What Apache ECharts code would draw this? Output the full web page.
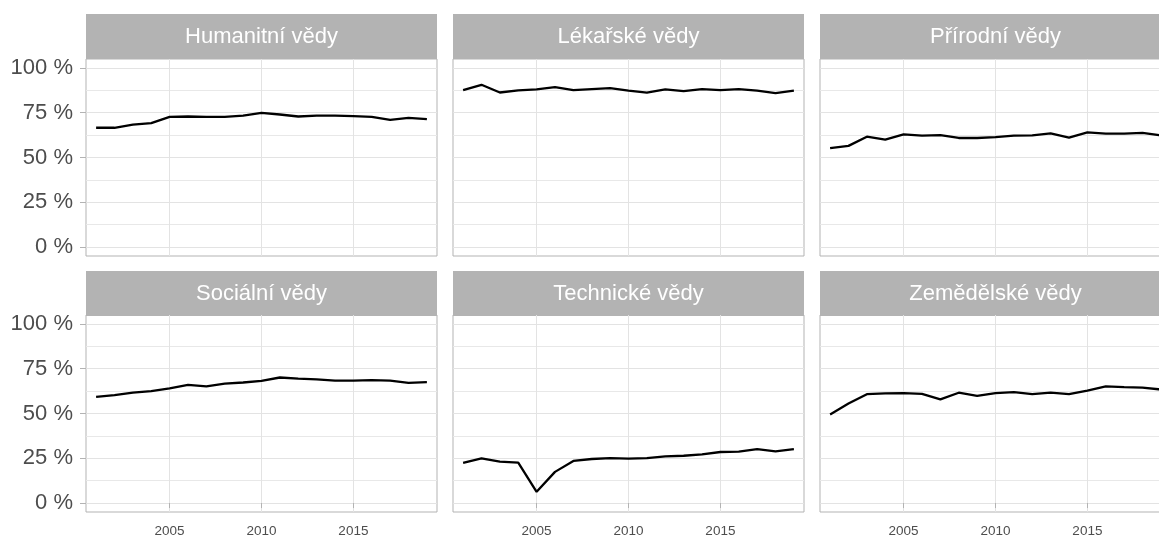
<!DOCTYPE html>
<html lang="cs">
<head>
<meta charset="UTF-8">
<title>Podíl podle oborů</title>
<script src="https://cdn.jsdelivr.net/npm/echarts@6/dist/echarts.min.js"></script>
<style>
  html, body { margin: 0; padding: 0; background: #fff; overflow: hidden; }
  /* graf je o něco širší než okno, pravý panel je oříznutý */
  #main { width: 1175px; height: 539px; }
</style>
</head>
<body>
<div id="main"></div>
<script>
// roky a hodnoty (v %) pro jednotlivé obory
var years = [2001, 2002, 2003, 2004, 2005, 2006, 2007, 2008, 2009, 2010,
             2011, 2012, 2013, 2014, 2015, 2016, 2017, 2018, 2019];

var panelNames = ['Humanitní vědy', 'Lékařské vědy', 'Přírodní vědy',
                  'Sociální vědy', 'Technické vědy', 'Zemědělské vědy'];

var humanitni = [66.6, 66.6, 68.3, 69.2, 72.7, 72.9, 72.7, 72.7, 73.4, 74.9,
                 74.0, 72.9, 73.4, 73.4, 73.1, 72.7, 71.0, 72.1, 71.4];
var lekarske  = [87.6, 90.6, 86.3, 87.5, 88.0, 89.3, 87.6, 88.2, 88.7, 87.3,
                 86.2, 88.0, 87.1, 88.2, 87.6, 88.2, 87.3, 86.0, 87.3];
var prirodni  = [55.2, 56.5, 61.6, 60.0, 62.9, 62.2, 62.5, 60.9, 60.9, 61.4,
                 62.2, 62.4, 63.5, 61.1, 64.0, 63.3, 63.3, 63.8, 62.3];
var socialni  = [59.3, 60.3, 61.7, 62.5, 64.0, 66.0, 65.2, 66.7, 67.3, 68.2,
                 70.1, 69.5, 69.1, 68.4, 68.4, 68.6, 68.4, 67.1, 67.5];
var technicke = [22.4, 25.0, 23.1, 22.6, 6.3, 17.4, 23.5, 24.6, 25.1, 24.8,
                 25.1, 26.1, 26.4, 27.2, 28.5, 28.7, 30.1, 28.8, 30.1];
var zemedelske = [49.5, 55.6, 60.8, 61.2, 61.4, 61.0, 57.9, 61.6, 59.9, 61.4,
                  61.9, 60.8, 61.6, 60.8, 62.8, 65.2, 64.7, 64.5, 63.4];

var xTicks = [2005, 2010, 2015];
var yTicks = [0, 25, 50, 75, 100];
var yMinor = [12.5, 37.5, 62.5, 87.5];

var allData = [humanitni, lekarske, prirodni, socialni, technicke, zemedelske];

// rozložení panelů
var colLeft = [86, 453, 820];
var panelW = 351;
var stripTop = [14, 271];
var stripH = 45;
var plotTop = [59, 315];
var plotH = 197;
var font = 'Liberation Sans, Arial, sans-serif';

var grids = [], xAxes = [], yAxes = [], series = [], graphics = [];

allData.forEach(function (vals, i) {
    var row = Math.floor(i / 3);
    var col = i % 3;
    var left = colLeft[col];
    var top = plotTop[row];

    grids.push({
        left: left, top: top, width: panelW, height: plotH,
        show: true, backgroundColor: '#fff',
        borderColor: '#b3b3b3', borderWidth: 1
    });

    xAxes.push({
        type: 'value', gridIndex: i,
        min: 2000.45, max: 2019.55,
        axisLine: { show: false },
        axisTick: {
            show: row === 1, length: 5, customValues: xTicks,
            lineStyle: { color: '#b3b3b3' }
        },
        axisLabel: {
            show: row === 1, customValues: xTicks, margin: 12,
            color: '#4d4d4d', fontSize: 13.5, fontFamily: font,
            formatter: function (v) { return String(v); }
        },
        splitLine: { show: true, lineStyle: { color: '#e3e3e3', width: 1 } }
    });

    // hlavní osa y
    yAxes.push({
        type: 'value', gridIndex: i,
        min: -5, max: 105,
        axisLine: { show: false },
        axisTick: {
            show: col === 0, length: 6, customValues: yTicks,
            lineStyle: { color: '#b3b3b3' }
        },
        axisLabel: {
            show: col === 0, customValues: yTicks, margin: 13,
            color: '#4d4d4d', fontSize: 22, fontFamily: font,
            formatter: function (v) { return v + ' %'; }
        },
        splitLine: { show: true, lineStyle: { color: '#e3e3e3', width: 1 } }
    });

    series.push({
        type: 'line', xAxisIndex: i, yAxisIndex: 2 * i,
        data: years.map(function (y, k) { return [y, vals[k]]; }),
        showSymbol: false, symbol: 'none',
        lineStyle: { color: '#000', width: 2.3 },
        z: 5, animation: false
    });

    // záhlaví panelu
    graphics.push({
        type: 'rect', left: left, top: stripTop[row],
        shape: { width: panelW, height: stripH },
        style: { fill: '#b3b3b3' }, silent: true
    });
    graphics.push({
        type: 'text', x: left + panelW / 2, y: stripTop[row] + stripH / 2,
        style: {
            text: panelNames[i], fill: '#fff',
            font: '22px ' + font,
            align: 'center', verticalAlign: 'middle'
        },
        silent: true
    });
});

// vedlejší vodorovné čáry mřížky (druhá skrytá osa y)
var yAll = [];
yAxes.forEach(function (a, i) {
    yAll.push(a);
    yAll.push({
        type: 'value', gridIndex: i,
        min: -5, max: 105,
        axisLine: { show: false },
        axisTick: { show: false, customValues: yMinor },
        axisLabel: { show: false, customValues: yMinor },
        splitLine: { show: true, lineStyle: { color: '#e8e8e8', width: 1 } }
    });
});

var myChart = echarts.init(document.getElementById('main'));
var option = {
    backgroundColor: '#fff',
    animation: false,
    grid: grids,
    xAxis: xAxes,
    yAxis: yAll,
    series: series,
    graphic: graphics
};
myChart.setOption(option);
</script>
</body>
</html>
